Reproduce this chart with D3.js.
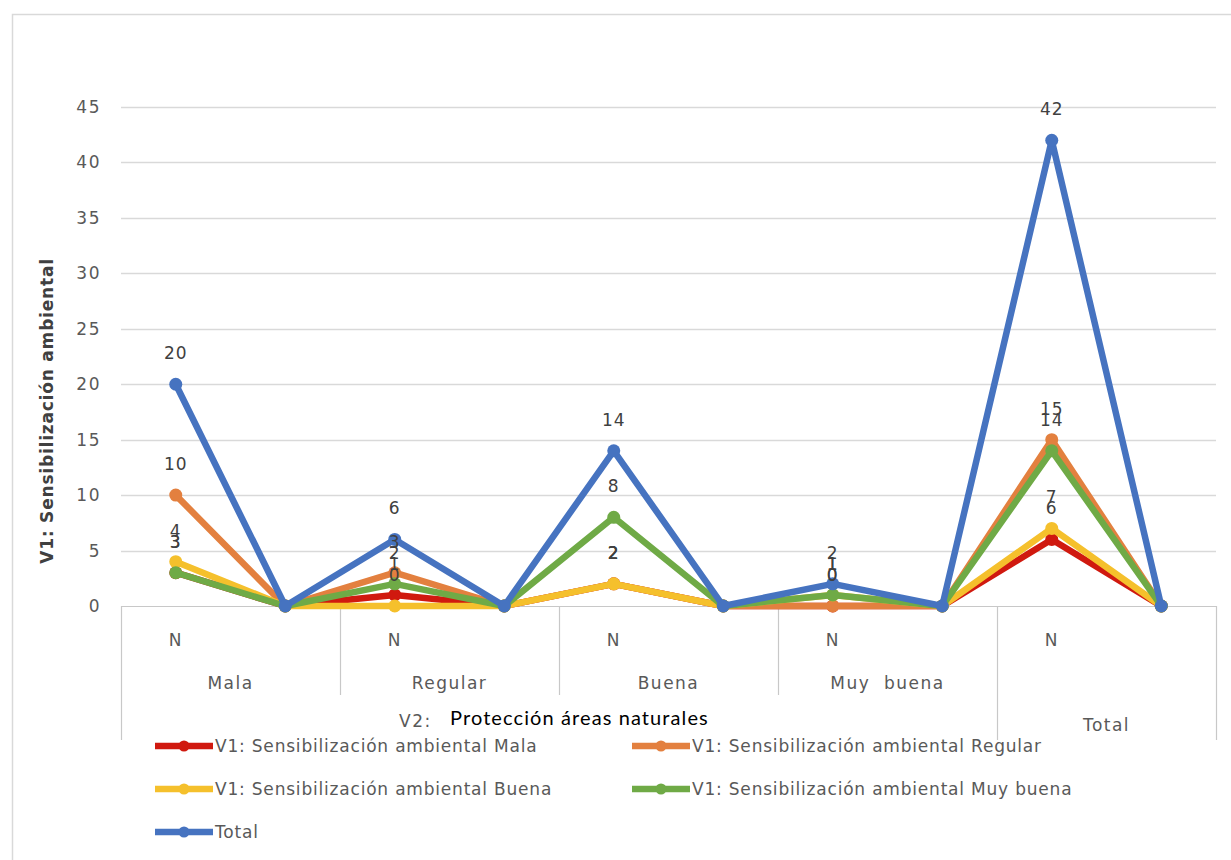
<!DOCTYPE html>
<html><head><meta charset="utf-8">
<script src="https://cdn.jsdelivr.net/npm/d3@7"></script>
<style>
html,body{margin:0;padding:0;background:#fff;}
svg{display:block;}
</style></head>
<body>
<svg id="chart" width="1231" height="860"></svg>
<script>
// ---- data ----
const xLabels = ["N", "", "N", "", "N", "", "N", "", "N", ""];
const groupLabels = ["Mala", "Regular", "Buena", "Muy  buena", "Total"];
const seriesNames = [
  "V1: Sensibilización ambiental Mala",
  "V1: Sensibilización ambiental Regular",
  "V1: Sensibilización ambiental Buena",
  "V1: Sensibilización ambiental Muy buena",
  "Total"
];
const valuesMala     = [3, 0, 1, 0, 2, 0, 0, 0, 6, 0];
const valuesRegular  = [10, 0, 3, 0, 2, 0, 0, 0, 15, 0];
const valuesBuena    = [4, 0, 0, 0, 2, 0, 1, 0, 7, 0];
const valuesMuyBuena = [3, 0, 2, 0, 8, 0, 1, 0, 14, 0];
const valuesTotal    = [20, 0, 6, 0, 14, 0, 2, 0, 42, 0];
const yTicks = [0, 5, 10, 15, 20, 25, 30, 35, 40, 45];
const yTitle = "V1: Sensibilización ambiental";
const xTitlePrefix = "V2:";
const xTitleBlack = "Protección áreas naturales";

const seriesValues = [valuesMala, valuesRegular, valuesBuena, valuesMuyBuena, valuesTotal];
const colors = ["#D0190F", "#E3803F", "#F5C02C", "#6FAA46", "#4673C0"];

// ---- layout ----
const svg = d3.select("#chart");
const pLeft = 121, pRight = 1216, pTop = 107, pBottom = 606;
const x = d3.scaleBand().domain(d3.range(xLabels.length)).range([pLeft, pRight]).padding(0);
const y = d3.scaleLinear().domain([0, 45]).range([pBottom, pTop]);
const cx = i => x(i) + x.bandwidth() / 2;
const textCol = "#595959";
const gridCol = "#D9D9D9";
const axisFont = sel => sel.attr("fill", textCol).style("font-family", "DejaVu Sans")
  .style("font-size", "17px").style("letter-spacing", "1.5px");

// outer border
svg.append("path").attr("d", "M12.5,860 L12.5,14.5 L1231,14.5")
  .attr("fill", "none").attr("stroke", "#D9D9D9").attr("stroke-width", 1.5);

// gridlines
svg.append("g").selectAll("line").data(yTicks.filter(d => d > 0)).join("line")
  .attr("x1", pLeft).attr("x2", pRight)
  .attr("y1", d => Math.round(y(d)) + 0.5).attr("y2", d => Math.round(y(d)) + 0.5)
  .attr("stroke", gridCol).attr("stroke-width", 1.3);

// y axis
const yAxis = d3.axisLeft(y).tickValues(yTicks).tickSize(0).tickPadding(20);
const gy = svg.append("g").attr("transform", `translate(${pLeft},0)`).call(yAxis);
gy.select(".domain").remove();
gy.selectAll("text").call(axisFont);

// y title
svg.append("text").attr("transform", `translate(53,411) rotate(-90)`)
  .attr("text-anchor", "middle").attr("fill", "#404040")
  .style("font-family", "DejaVu Sans").style("font-weight", "bold").style("font-size", "17px")
  .style("letter-spacing", "0.8px")
  .text(yTitle);

// category table lines
const tbl = svg.append("g").attr("stroke", "#C8C8C8").attr("stroke-width", 1.2);
tbl.append("line").attr("x1", pLeft).attr("x2", pRight).attr("y1", pBottom + 0.5).attr("y2", pBottom + 0.5);
const groupEdges = d3.range(0, xLabels.length + 1, 2);
groupEdges.forEach((gi, k) => {
  const xx = gi === xLabels.length ? pRight : x(gi);
  let y2 = 695;
  if (k === 0 || k === groupEdges.length - 1 || k === groupEdges.length - 2) y2 = 740;
  tbl.append("line").attr("x1", Math.round(xx) + 0.5).attr("x2", Math.round(xx) + 0.5)
    .attr("y1", pBottom).attr("y2", y2);
});

// x labels (level 1)
svg.append("g").selectAll("text").data(xLabels).join("text")
  .attr("x", (d, i) => cx(i)).attr("y", 646).attr("text-anchor", "middle")
  .call(axisFont)
  .text(d => d);

// group labels (level 2)
svg.append("g").selectAll("text").data(groupLabels).join("text")
  .attr("x", (d, i) => (x(i * 2) + (i * 2 + 2 >= xLabels.length ? pRight : x(i * 2 + 2))) / 2)
  .attr("y", (d, i) => i === groupLabels.length - 1 ? 731 : 689)
  .attr("text-anchor", "middle").call(axisFont).style("white-space", "pre")
  .text(d => d);

// x title: gray prefix + black text box
svg.append("text").attr("x", 399).attr("y", 727)
  .call(axisFont)
  .text(xTitlePrefix);
svg.append("text").attr("x", 450).attr("y", 725)
  .attr("fill", "#000").style("font-family", "Lato").style("font-size", "20px")
  .style("letter-spacing", "1.1px")
  .text(xTitleBlack);

// lines + markers
const line = d3.line().x((d, i) => cx(i)).y(d => y(d));
seriesValues.forEach((vals, s) => {
  const g = svg.append("g");
  g.append("path").datum(vals).attr("d", line).attr("fill", "none")
    .attr("stroke", colors[s]).attr("stroke-width", 6.5).attr("stroke-linejoin", "round");
  g.selectAll("circle").data(vals).join("circle")
    .attr("cx", (d, i) => cx(i)).attr("cy", d => y(d)).attr("r", 6.5).attr("fill", colors[s]);
});

// data labels (only for the N positions)
seriesValues.forEach((vals, s) => {
  svg.append("g").selectAll("text").data(vals.map((v, i) => ({v, i})).filter(d => xLabels[d.i] !== ""))
    .join("text")
    .attr("x", d => cx(d.i)).attr("y", d => y(d.v) - 25).attr("text-anchor", "middle")
    .attr("fill", "#404040").style("font-family", "DejaVu Sans").style("font-size", "17px")
    .style("letter-spacing", "1px")
    .text(d => d.v);
});

// legend
const legendPos = [[155, 746], [632, 746], [155, 789], [632, 789], [155, 832]];
seriesNames.forEach((name, s) => {
  const [lx, ly] = legendPos[s];
  const g = svg.append("g").attr("transform", `translate(${lx},${ly})`);
  g.append("line").attr("x1", 0).attr("x2", 58).attr("y1", 0).attr("y2", 0)
    .attr("stroke", colors[s]).attr("stroke-width", 6.5);
  g.append("circle").attr("cx", 29).attr("cy", 0).attr("r", 5.5).attr("fill", colors[s]);
  g.append("text").attr("x", 60).attr("y", 6).attr("fill", textCol)
    .style("font-family", "DejaVu Sans").style("font-size", "17px").style("letter-spacing", "0.8px")
    .text(name);
});
</script>
</body></html>
